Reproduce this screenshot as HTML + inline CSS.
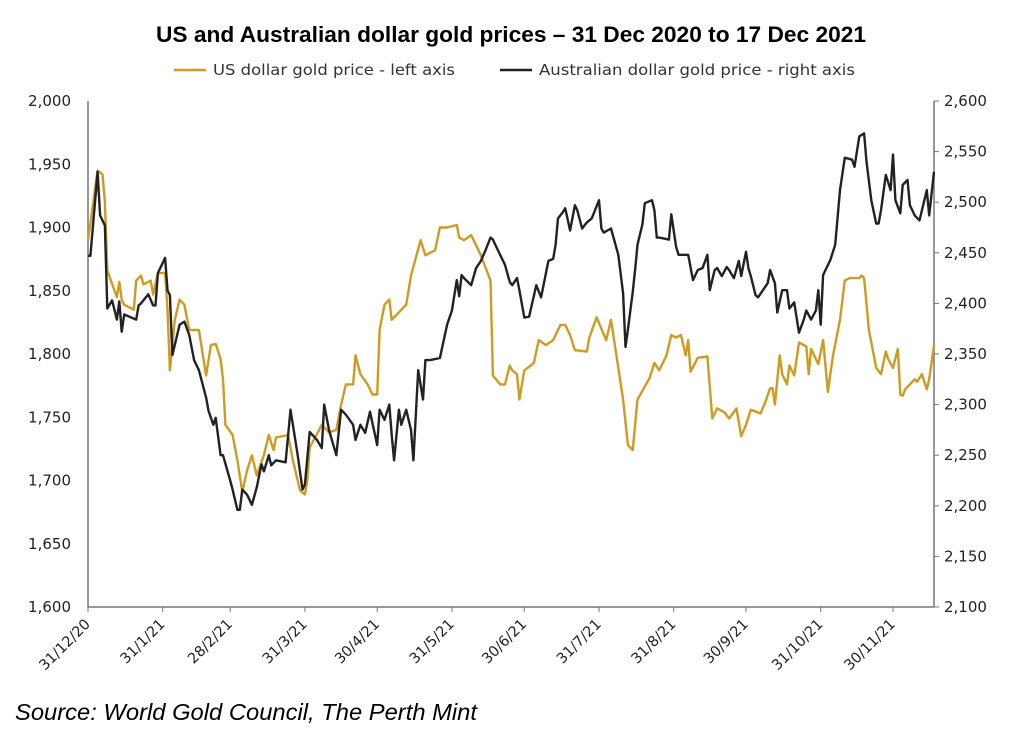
<!DOCTYPE html>
<html><head><meta charset="utf-8"><style>
body{margin:0;background:#fff;width:1024px;height:746px;overflow:hidden;font-family:"Liberation Sans",sans-serif}
.dv{font-family:"DejaVu Sans",sans-serif}
</style></head><body>
<svg width="1024" height="746" xmlns="http://www.w3.org/2000/svg">
<text x="511" y="42" text-anchor="middle" font-size="22.5" font-weight="bold" fill="#000" textLength="710" lengthAdjust="spacingAndGlyphs">US and Australian dollar gold prices – 31 Dec 2020 to 17 Dec 2021</text>
<g>
<line x1="174" y1="70" x2="206" y2="70" stroke="#D09B20" stroke-width="2.5"/>
<text class="dv" x="213" y="75" font-size="15" fill="#333" textLength="242" lengthAdjust="spacingAndGlyphs">US dollar gold price - left axis</text>
<line x1="500" y1="70" x2="532" y2="70" stroke="#222" stroke-width="2.5"/>
<text class="dv" x="539" y="75" font-size="15" fill="#333" textLength="316" lengthAdjust="spacingAndGlyphs">Australian dollar gold price - right axis</text>
</g>
<g id="axes" class="dv"></g>
<g id="series"></g>
<text x="15" y="720" font-size="23" font-style="italic" fill="#000" textLength="462" lengthAdjust="spacingAndGlyphs">Source: World Gold Council, The Perth Mint</text>
</svg>
<script>
const xTickLabels=["31/12/20","31/1/21","28/2/21","31/3/21","30/4/21","31/5/21","30/6/21","31/7/21","31/8/21","30/9/21","31/10/21","30/11/21"];
const xTickDays=[0,31,59,90,120,151,181,212,243,273,304,334];
const leftTicks=[1600,1650,1700,1750,1800,1850,1900,1950,2000];
const rightTicks=[2100,2150,2200,2250,2300,2350,2400,2450,2500,2550,2600];
const usDays=[0,4,6,7,8,12,13,14,15,19,20,22,23,26,27,29,32,33,34,36,38,40,42,46,49,51,53,55,56,57,60,62,64,66,68,70,73,75,77,78,83,85,88,90,91,92,97,100,103,105,107,110,111,113,116,118,120,121,123,125,126,132,134,138,140,144,146,149,153,154,156,159,163,165,167,168,171,173,175,176,178,179,181,185,187,190,193,196,198,200,202,207,208,211,215,217,222,224,226,228,233,235,237,240,242,244,246,248,249,250,253,257,259,261,264,266,269,271,273,275,279,281,283,284,285,287,288,290,291,293,295,298,299,300,303,305,307,309,312,314,316,320,321,322,324,327,329,331,332,334,336,337,338,339,341,343,344,346,348,349,351];
const usValues=[1890,1945,1942,1920,1866,1845,1857,1843,1839,1835,1858,1862,1855,1858,1847,1864,1864,1835,1787,1827,1843,1839,1819,1819,1783,1807,1808,1796,1780,1744,1736,1716,1691,1708,1720,1704,1720,1736,1724,1734,1736,1716,1692,1689,1700,1726,1744,1738,1740,1760,1776,1776,1799,1784,1776,1768,1768,1819,1839,1843,1827,1839,1862,1890,1878,1882,1900,1900,1902,1892,1890,1894,1878,1868,1858,1783,1776,1776,1791,1787,1784,1764,1787,1793,1811,1807,1811,1823,1823,1815,1803,1802,1813,1829,1811,1827,1764,1728,1724,1764,1781,1793,1787,1799,1815,1813,1815,1799,1811,1786,1797,1798,1749,1757,1754,1749,1757,1735,1744,1756,1753,1762,1773,1773,1760,1799,1784,1776,1791,1783,1809,1806,1784,1804,1792,1811,1770,1798,1827,1858,1860,1860,1862,1860,1819,1789,1784,1802,1796,1789,1804,1768,1767,1772,1776,1780,1778,1784,1772,1780,1807];
const audDays=[0,1,4,5,7,8,10,12,13,14,15,20,21,22,25,27,28,29,32,33,34,35,38,40,42,44,46,49,50,52,53,55,56,59,60,62,63,64,66,68,70,72,73,75,76,78,82,84,87,89,90,92,95,97,98,100,103,105,107,110,111,113,115,117,120,121,123,125,126,127,129,130,132,134,135,137,139,140,142,146,149,151,153,154,155,156,159,161,163,165,167,168,170,173,175,176,178,179,181,183,186,188,191,193,194,195,197,198,200,202,203,205,207,209,210,212,213,214,217,220,222,223,224,226,227,228,230,231,234,235,236,237,241,242,244,245,249,251,253,255,257,258,260,261,263,265,266,268,270,271,273,274,275,277,278,280,282,283,285,286,288,290,291,293,295,297,298,300,302,303,304,305,306,308,310,312,314,317,318,320,322,323,325,327,328,329,331,333,334,335,337,338,340,341,343,345,346,348,349,351];
const audValues=[2447,2447,2530,2487,2477,2395,2403,2384,2402,2372,2389,2384,2398,2400,2409,2398,2398,2430,2445,2413,2408,2349,2379,2382,2369,2344,2334,2307,2294,2280,2287,2250,2250,2225,2216,2196,2196,2216,2211,2201,2218,2241,2234,2250,2240,2245,2243,2295,2250,2216,2221,2273,2265,2257,2300,2275,2250,2295,2290,2280,2265,2280,2272,2293,2260,2295,2285,2300,2270,2245,2295,2280,2295,2275,2245,2334,2305,2344,2344,2346,2379,2393,2423,2407,2428,2425,2418,2435,2442,2453,2465,2463,2453,2438,2421,2418,2425,2413,2386,2387,2418,2406,2442,2444,2458,2484,2490,2494,2472,2497,2492,2474,2480,2484,2490,2502,2474,2470,2474,2448,2410,2357,2374,2411,2433,2458,2478,2499,2502,2492,2465,2465,2463,2488,2456,2448,2448,2423,2433,2435,2448,2413,2433,2435,2427,2436,2433,2425,2442,2427,2451,2435,2427,2408,2406,2413,2420,2433,2420,2391,2413,2413,2395,2401,2371,2384,2393,2384,2393,2413,2379,2428,2433,2443,2458,2512,2544,2542,2535,2565,2568,2540,2502,2479,2479,2492,2527,2512,2547,2502,2489,2517,2522,2497,2487,2482,2492,2512,2487,2530];

const X0=88,X1=934,Y0=607,Y1=101,D0=0,D1=351;
const xs=d=>X0+(d-D0)/(D1-D0)*(X1-X0);
const yL=v=>Y0-(v-1600)/400*(Y0-Y1);
const yR=v=>Y0-(v-2100)/500*(Y0-Y1);
const NS="http://www.w3.org/2000/svg";
function mk(tag,attrs,parent,txt){const e=document.createElementNS(NS,tag);for(const k in attrs)e.setAttribute(k,attrs[k]);if(txt!==undefined)e.textContent=txt;parent.appendChild(e);return e;}
const ax=document.getElementById('axes'),se=document.getElementById('series');
let e;
e=mk('line',{x1:X0,y1:Y1,x2:X0,y2:Y0,stroke:'#777','stroke-width':1.5},ax);


e=mk('line',{x1:X1,y1:Y1,x2:X1,y2:Y0,stroke:'#777','stroke-width':1.5},ax);


e=mk('line',{x1:X0,y1:Y0,x2:X1,y2:Y0,stroke:'#777','stroke-width':1.5},ax);


leftTicks.forEach(v=>{const y=yL(v);
 e=mk('text',{x:71,y:y+5,'text-anchor':'end','font-size':15,fill:'#222'},ax,v.toLocaleString('en-US'));
 
 });
rightTicks.forEach(v=>{const y=yR(v);
 mk('line',{x1:X1,y1:y,x2:X1+5,y2:y,stroke:'#777'},ax);
 e=mk('text',{x:944,y:y+5,'text-anchor':'start','font-size':15,fill:'#222'},ax,v.toLocaleString('en-US'));
 
 });
xTickDays.forEach((d,i)=>{const x=xs(d);
 mk('line',{x1:x,y1:Y0,x2:x,y2:Y0+5,stroke:'#777'},ax);
 e=mk('text',{x:x+3,y:Y0+18,'text-anchor':'end','font-size':14.5,fill:'#222',transform:`rotate(-45 ${x+3} ${Y0+18})`},ax,xTickLabels[i]);
 
 });
function path(days,vals,yf){let s='';const n=Math.min(days.length,vals.length);for(let i=0;i<n;i++)s+=(i?'L':'M')+xs(days[i]).toFixed(1)+','+yf(vals[i]).toFixed(1);return s;}
e=mk('path',{d:path(usDays,usValues,yL),fill:'none',stroke:'#D09B20','stroke-width':2.4,'stroke-linejoin':'round'},se);


e=mk('path',{d:path(audDays,audValues,yR),fill:'none',stroke:'#222','stroke-width':2.4,'stroke-linejoin':'round'},se);


</script>
</body></html>
